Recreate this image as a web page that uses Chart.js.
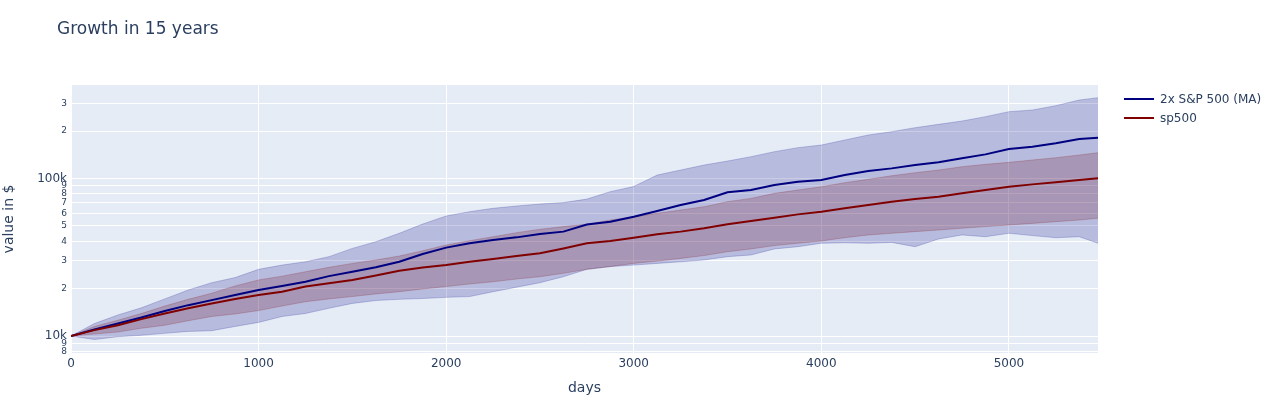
<!DOCTYPE html>
<html>
<head>
<meta charset="utf-8">
<title>Growth in 15 years</title>
<script src="https://cdn.jsdelivr.net/npm/chart.js@4.4.1/dist/chart.umd.min.js"></script>
<style>
  html, body { margin: 0; padding: 0; background: #fff; }
  body { font-family: "DejaVu Sans", Verdana, sans-serif; color: #2a3f5f; }
  #wrap { position: relative; width: 1276px; height: 407px; }
  #title { position: absolute; left: 57px; top: 17px; font-size: 17px; line-height: 22px; white-space: nowrap; }
  #legend { position: absolute; left: 1124px; top: 89px; font-size: 12px; }
  #legend .item { display: flex; align-items: center; height: 19px; white-space: nowrap; }
  #legend .swatch { width: 30px; height: 0; border-top: 2px solid; margin-right: 6px; }
</style>
</head>
<body>
<div id="wrap">
  <canvas id="chart" width="1276" height="407"></canvas>
  <div id="title">Growth in 15 years</div>
  <div id="legend"></div>
</div>
<script>
// x: trading days, values in $
const days = [0, 125, 250, 375, 500, 625, 750, 875, 1000, 1125, 1250, 1375, 1500, 1625, 1750,
              1875, 2000, 2125, 2250, 2375, 2500, 2625, 2750, 2875, 3000, 3125, 3250, 3375, 3500,
              3625, 3750, 3875, 4000, 4125, 4250, 4375, 4500, 4625, 4750, 4875, 5000, 5125, 5250,
              5375, 5475];

// 2x S&P 500 (MA): median and band
const levMedian = [10000, 11000, 12000, 13100, 14400, 15700, 16900, 18200, 19600, 20800, 22100, 24000, 25600, 27300, 29600,
                   33200, 36400, 38800, 40700, 42300, 44400, 46000, 51000, 53200, 57200, 62200, 67900, 73000, 81700,
                   84500, 90900, 95500, 97800, 105200, 111600, 116000, 121800, 126700, 134300, 142300, 153900, 159300, 167300,
                   178200, 181700];
const levUpper  = [10000, 12000, 13600, 15100, 17200, 19600, 21800, 23500, 26500, 28200, 29600, 31900, 36000, 39700, 44900,
                   51400, 57800, 61600, 64700, 66900, 68900, 70300, 74000, 82500, 89000, 105200, 113200, 121800, 129100,
                   137600, 148100, 157000, 163200, 175600, 188900, 198300, 210300, 220800, 231800, 247000, 265700, 272200, 290100,
                   315100, 326000];
const levLower  = [10000, 9500, 9900, 10100, 10400, 10700, 10800, 11500, 12200, 13300, 13900, 15000, 16100, 16800, 17100,
                   17300, 17600, 17800, 19100, 20400, 21800, 23800, 26500, 27600, 28200, 28900, 29600, 30400, 31900,
                   32700, 35700, 36900, 38800, 39100, 38800, 39300, 36900, 41300, 43800, 42700, 44900, 43400, 42100,
                   42700, 38800];

// sp500: median and band
const spMedian = [10000, 10900, 11700, 12800, 13900, 15000, 16100, 17200, 18200, 19100, 20600, 21600, 22700, 24200, 26000,
                  27200, 28200, 29600, 30800, 32200, 33500, 36000, 38800, 40100, 42100, 44200, 46000, 48300, 51200,
                  53700, 56400, 59200, 61600, 64700, 67900, 71300, 74100, 76700, 80500, 84500, 88700, 91800, 94600,
                  97800, 100300];
const spUpper  = [10000, 11500, 12600, 13900, 15500, 17100, 18700, 20800, 22700, 24000, 25600, 27300, 28900, 30400, 32200,
                  34800, 37800, 40300, 42700, 45300, 47600, 49500, 51200, 54500, 57200, 60100, 63100, 66200, 71300,
                  74800, 80500, 84500, 88700, 94100, 98800, 104200, 108900, 113200, 118900, 123000, 126700, 131100, 135600,
                  141000, 145900];
const spLower  = [10000, 10300, 10600, 11200, 11700, 12500, 13300, 13800, 14500, 15500, 16500, 17200, 17800, 18500, 19100,
                  19900, 20600, 21400, 22100, 23000, 23800, 25000, 26500, 27600, 28900, 29900, 31100, 32400, 34300,
                  35700, 37500, 38800, 40100, 42100, 43800, 44900, 46000, 47100, 48300, 49500, 50700, 51900, 53200,
                  54500, 55900];

const seriesNames = ['2x S&P 500 (MA)', 'sp500'];

const xTickValues = [0, 1000, 2000, 3000, 4000, 5000];
const xTickLabels = ['0', '1000', '2000', '3000', '4000', '5000'];
const yTickValues = [8000, 9000, 10000, 20000, 30000, 40000, 50000, 60000, 70000, 80000, 90000, 100000, 200000, 300000];
const yTickLabels = ['8', '9', '10k', '2', '3', '4', '5', '6', '7', '8', '9', '100k', '2', '3'];

(function () {
  const NAVY = '#000080', MAROON = '#800000';
  const NAVY_BAND = 'rgba(0,0,128,0.2)', MAROON_BAND = 'rgba(128,0,0,0.2)';
  const INK = '#2a3f5f';
  const FONT = '"DejaVu Sans", Verdana, sans-serif';

  const pts = vals => vals.map((v, i) => ({ x: days[i], y: v }));

  function band(vals, color, fill) {
    return { data: pts(vals), borderColor: color, backgroundColor: color, borderWidth: 1,
             fill: fill, pointRadius: 0, tension: 0, order: 5 };
  }
  function median(label, vals, color, order) {
    return { label, data: pts(vals), borderColor: color, borderWidth: 2,
             fill: false, pointRadius: 0, tension: 0, order };
  }

  const plotBg = {
    id: 'plotBg',
    beforeDraw(chart) {
      const { ctx, chartArea: a } = chart;
      ctx.save();
      ctx.fillStyle = '#e5ecf6';
      ctx.fillRect(a.left, a.top, a.right - a.left, a.bottom - a.top);
      ctx.restore();
    }
  };

  new Chart(document.getElementById('chart'), {
    type: 'line',
    data: {
      datasets: [
        band(levLower, NAVY_BAND, false),
        band(levUpper, NAVY_BAND, '-1'),
        median(seriesNames[0], levMedian, NAVY, 1),
        band(spLower, MAROON_BAND, false),
        band(spUpper, MAROON_BAND, '-1'),
        median(seriesNames[1], spMedian, MAROON, 0),
      ]
    },
    options: {
      responsive: false,
      animation: false,
      layout: { padding: { top: 85, right: 178, bottom: 0, left: 0 } },
      plugins: {
        legend: { display: false },
        tooltip: { enabled: false },
        filler: { drawTime: 'beforeDatasetsDraw' },
      },
      scales: {
        x: {
          type: 'linear', min: 0, max: 5475,
          afterBuildTicks: s => { s.ticks = xTickValues.map(v => ({ value: v })); },
          afterFit: s => { s.height = 54; },
          grid: { color: '#ffffff', lineWidth: 1, drawTicks: false },
          border: { display: false },
          ticks: {
            color: INK, font: { family: FONT, size: 12 }, padding: 4, autoSkip: false, maxRotation: 0,
            callback: (v, i) => xTickLabels[i],
          },
          title: { display: true, text: 'days', color: INK, font: { family: FONT, size: 14 }, padding: { top: 0, bottom: 10 } },
        },
        y: {
          type: 'logarithmic', min: 7800, max: 392500,
          afterBuildTicks: s => { s.ticks = yTickValues.map(v => ({ value: v })); },
          afterFit: s => { s.width = 71; },
          grid: { color: '#ffffff', lineWidth: 1, drawTicks: false },
          border: { display: false },
          ticks: {
            color: INK, padding: 4, autoSkip: false,
            font: ctx => ({ family: FONT, size: /k$/.test(yTickLabels[ctx.index]) ? 12 : 9 }),
            callback: (v, i) => yTickLabels[i],
          },
          title: { display: true, text: 'value in $', color: INK, font: { family: FONT, size: 14 }, padding: { top: 1, bottom: 0 } },
        },
      },
    },
    plugins: [plotBg],
  });

  const legend = document.getElementById('legend');
  legend.innerHTML = [[seriesNames[0], NAVY], [seriesNames[1], MAROON]].map(([name, c]) => `
    <div class="item"><span class="swatch" style="border-color:${c}"></span><span>${name}</span></div>
  `).join('');
})();
</script>
</body>
</html>
